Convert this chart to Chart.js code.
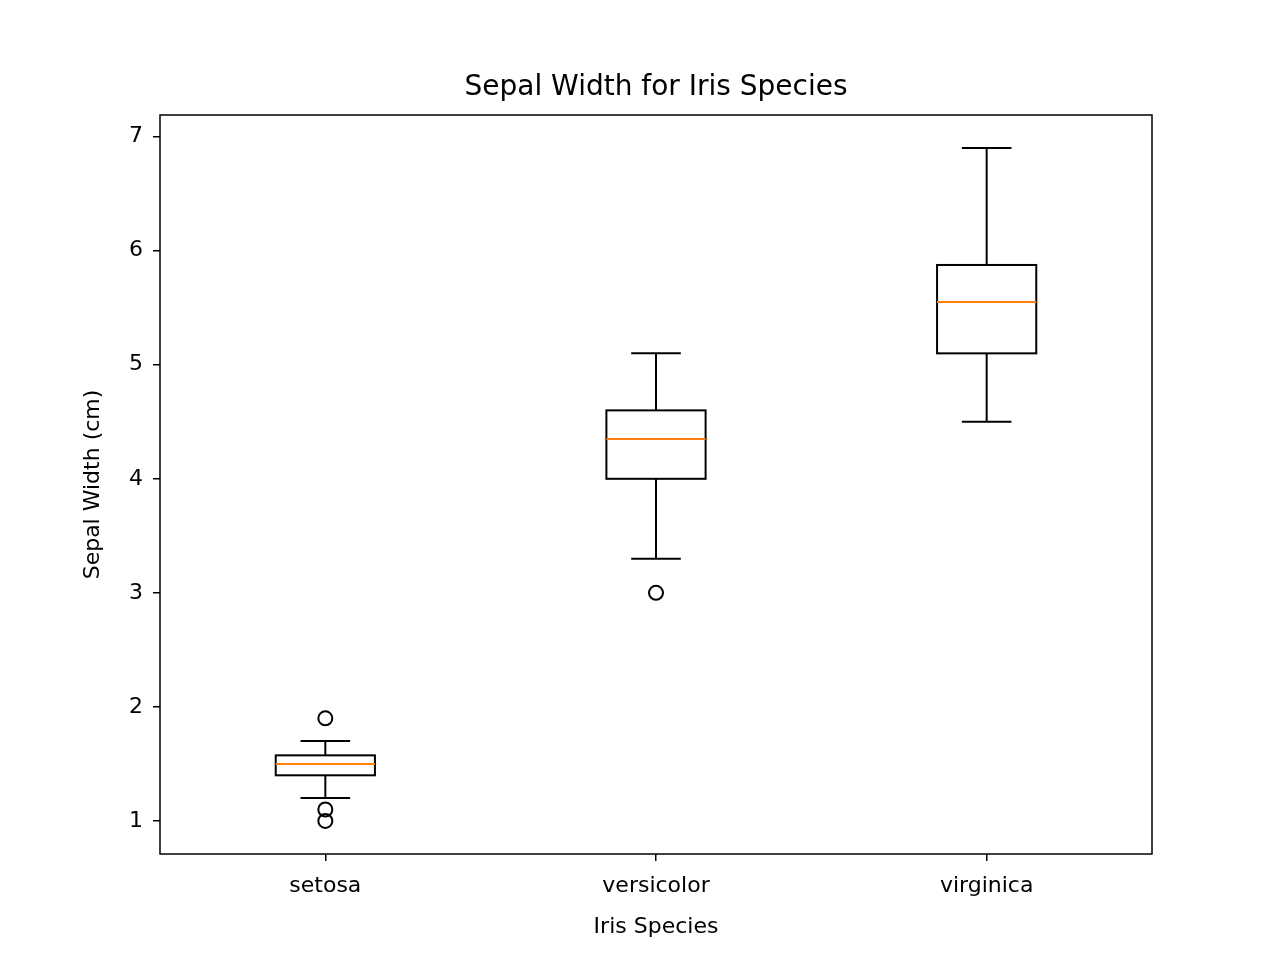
<!DOCTYPE html>
<html>
<head>
<meta charset="utf-8">
<script src="https://cdn.jsdelivr.net/npm/chart.js@4"></script>
<style>
  html, body { margin: 0; padding: 0; background: #fff; }
  #wrap { width: 1280px; height: 960px; }
</style>
</head>
<body>
<div id="wrap"><canvas id="boxChart"></canvas></div>
<script>
// Données
const species = ['setosa', 'versicolor', 'virginica'];
const whiskerLow = [1.2, 3.3, 4.5];
const q1 = [1.4, 4.0, 5.1];
const median = [1.5, 4.35, 5.55];
const q3 = [1.575, 4.6, 5.875];
const whiskerHigh = [1.7, 5.1, 6.9];
const outliers = [[1.9, 1.1, 1.0], [3.0], []];
const yTicks = [1, 2, 3, 4, 5, 6, 7];

const outlierPoints = [];
outliers.forEach((list, i) => list.forEach(v => outlierPoints.push({ x: i + 1, y: v })));

// Dessin des boîtes à moustaches via les échelles
const boxPlugin = {
    id: 'boxPlugin',
    afterDatasetsDraw(chart) {
        const ctx = chart.ctx;
        const xs = chart.scales.x;
        const ys = chart.scales.y;
        const a = chart.chartArea;
        ctx.save();
        ctx.lineWidth = 2;
        species.forEach((s, i) => {
            const cx = xs.getPixelForValue(i + 1);
            const half = xs.getPixelForValue(i + 1.15) - cx;
            const cap = half / 2;
            const yLo = ys.getPixelForValue(whiskerLow[i]);
            const yQ1 = ys.getPixelForValue(q1[i]);
            const yMed = ys.getPixelForValue(median[i]);
            const yQ3 = ys.getPixelForValue(q3[i]);
            const yHi = ys.getPixelForValue(whiskerHigh[i]);
            ctx.strokeStyle = '#000';
            ctx.beginPath();
            ctx.moveTo(cx, yQ1); ctx.lineTo(cx, yLo);
            ctx.moveTo(cx - cap, yLo); ctx.lineTo(cx + cap, yLo);
            ctx.moveTo(cx, yQ3); ctx.lineTo(cx, yHi);
            ctx.moveTo(cx - cap, yHi); ctx.lineTo(cx + cap, yHi);
            ctx.stroke();
            ctx.strokeRect(cx - half, yQ3, half * 2, yQ1 - yQ3);
            ctx.strokeStyle = '#ff7f0e';
            ctx.beginPath();
            ctx.moveTo(cx - half, yMed); ctx.lineTo(cx + half, yMed);
            ctx.stroke();
        });
        // Cadre
        ctx.strokeStyle = '#000';
        ctx.lineWidth = 1.5;
        ctx.strokeRect(a.left, a.top, a.right - a.left, a.bottom - a.top);
        // Titre
        ctx.fillStyle = '#000';
        ctx.font = '28px "DejaVu Sans"';
        ctx.textAlign = 'center';
        ctx.textBaseline = 'middle';
        ctx.fillText('Sepal Width for Iris Species', (a.left + a.right) / 2, 88);
        ctx.restore();
    }
};

new Chart(document.getElementById('boxChart'), {
    type: 'scatter',
    data: {
        datasets: [{
            data: outlierPoints,
            pointStyle: 'circle',
            radius: 7,
            hoverRadius: 7,
            borderColor: '#000',
            borderWidth: 2,
            backgroundColor: 'rgba(0,0,0,0)'
        }]
    },
    plugins: [boxPlugin],
    options: {
        responsive: true,
        maintainAspectRatio: false,
        animation: false,
        layout: { padding: { left: 80, right: 128, top: 115, bottom: 0 } },
        plugins: { legend: { display: false }, tooltip: { enabled: false } },
        scales: {
            x: {
                type: 'linear',
                min: 0.5,
                max: 3.5,
                afterFit: s => { s.height = 106; },
                afterBuildTicks: s => { s.ticks = species.map((n, i) => ({ value: i + 1 })); },
                ticks: {
                    color: '#000',
                    padding: 12,
                    font: { family: 'DejaVu Sans', size: 22 },
                    callback: v => species[v - 1] || ''
                },
                grid: { drawOnChartArea: false, color: '#000', tickLength: 7, lineWidth: 1.5 },
                border: { display: false },
                title: {
                    display: true, text: 'Iris Species', color: '#000',
                    font: { family: 'DejaVu Sans', size: 22 },
                    padding: { top: 0, bottom: 20 }
                }
            },
            y: {
                min: 0.71,
                max: 7.19,
                afterFit: s => { s.width = 80; },
                afterBuildTicks: s => { s.ticks = yTicks.map(v => ({ value: v })); },
                ticks: { color: '#000', padding: 10, font: { family: 'DejaVu Sans', size: 22 } },
                grid: { drawOnChartArea: false, color: '#000', tickLength: 7, lineWidth: 1.5 },
                border: { display: false },
                title: {
                    display: true, text: 'Sepal Width (cm)', color: '#000',
                    font: { family: 'DejaVu Sans', size: 22 },
                    padding: { top: 0, bottom: 0 }
                }
            }
        }
    }
});
</script>
</body>
</html>
